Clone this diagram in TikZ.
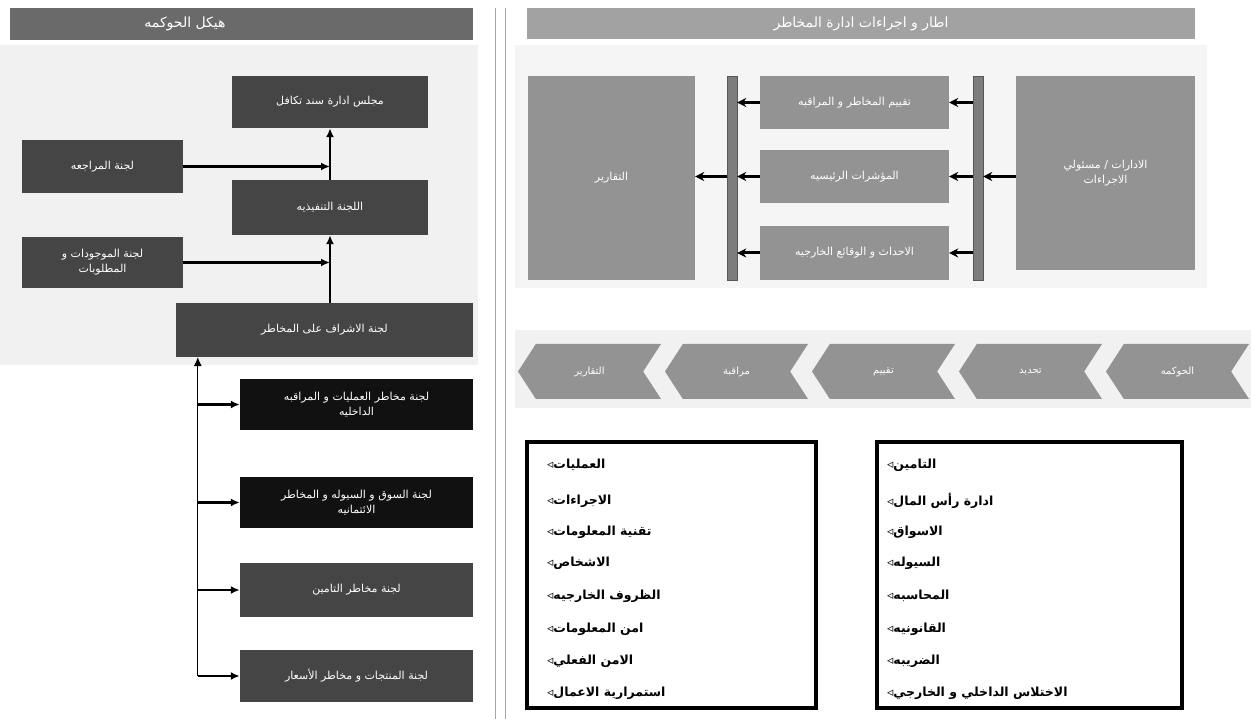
\documentclass[tikz,border=0pt]{standalone}
\usepackage{fontspec}
\usetikzlibrary{arrows.meta,shapes.symbols,calc,positioning}
\TeXXeTstate=1
\newfontfamily\arabicfont[Script=Arabic]{DejaVu Sans}
\newcommand\artext[1]{\arabicfont\beginR #1\endR}
\definecolor{titleDark}{HTML}{6A6A6A}
\definecolor{titleLight}{HTML}{A2A2A2}
\definecolor{boxDark}{HTML}{454545}
\definecolor{boxBlack}{HTML}{111111}
\definecolor{boxMid}{HTML}{939393}
\definecolor{panelGray}{HTML}{F1F1F1}

\begin{document}
\begin{tikzpicture}[x=1pt, y=-1pt]
\tikzset{
	sz/.style 2 args = { minimum width=#1pt, minimum height=#2pt },
	base/.style = { rectangle, inner sep=0pt, text=white, align=center, font=\fontsize{11}{15}\selectfont },
	titlebar/.style = { base, font=\fontsize{14}{16}\selectfont },
	darkbox/.style = { base, fill=boxDark },
	blackbox/.style = { base, fill=boxBlack },
	midbox/.style = { base, fill=boxMid },
	vbar/.style = { rectangle, inner sep=0pt, fill=boxMid!85!black, draw=boxMid!60!black, line width=0.4pt },
	chevron/.style = { signal, signal to=west, signal from=east, signal pointer angle=114, fill=boxMid, inner sep=0pt, text=white, sz={143}{55}, font=\fontsize{10}{12}\selectfont },
	listbox/.style = { rectangle, draw=black, line width=4pt, inner sep=0pt },
	item/.style = { anchor=west, inner sep=0pt, font=\bfseries\fontsize{12.5}{14}\selectfont },
	arrow/.style = { line width=2.4pt, -{Latex[length=9pt, width=8pt]} },
	thinarrow/.style = { line width=0.8pt, -{Latex[length=9pt, width=8pt]} },
	rarrow/.style = { line width=3pt, -{Stealth[length=9pt, width=9pt]} }
}
\useasboundingbox (0,0) rectangle (1251,719);

	% panels
	\fill[panelGray] (0,45) rectangle (478,365);
	\fill[panelGray!70] (515,45) rectangle (1207,288);
	\fill[panelGray] (515,330) rectangle (1251,408);
	\draw[gray!70, line width=0.8pt] (495,8) -- (495,719);
	\draw[gray!70, line width=0.8pt] (505,8) -- (505,719);

	% left column
	\node (titleGov) [titlebar, fill=titleDark, sz={463}{32}] at (241.5,24) {};
	\node [titlebar] at (185,24) {\artext{هيكل الحوكمه}};
	\node (board) [darkbox, sz={196}{52}] at (330,102) {\artext{مجلس ادارة سند تكافل}};
	\node (audit) [darkbox, sz={161}{53}] at (102.5,166.5) {\artext{لجنة المراجعه}};
	\node (exec) [darkbox, sz={196}{55}] at (330,207.5) {\artext{اللجنة التنفيذيه}};
	\node (alco) [darkbox, sz={161}{51}] at (102.5,262.5) {\artext{لجنة الموجودات و}\\\artext{المطلوبات}};
	\node (riskc) [darkbox, sz={297}{54}] at (324.5,330) {\artext{لجنة الاشراف على المخاطر}};

	\node (opsc) [blackbox, sz={233}{51}] at (356.5,404.5) {\artext{لجنة مخاطر العمليات و المراقبه}\\\artext{الداخليه}};
	\node (mktc) [blackbox, sz={233}{51}] at (356.5,502.5) {\artext{لجنة السوق و السيوله و المخاطر}\\\artext{الائتمانيه}};
	\node (insc) [darkbox, sz={233}{54}] at (356.5,590) {\artext{لجنة مخاطر التامين}};
	\node (prodc) [darkbox, sz={233}{52}] at (356.5,676) {\artext{لجنة المنتجات و مخاطر الأسعار}};
	\coordinate (trunk) at ($(riskc.south west)+(22,0)$);

	% right column
	\node (titleFw) [titlebar, fill=titleLight, sz={668}{31}] at (861,23.5) {\artext{اطار و اجراءات ادارة المخاطر}};
	\node (reports) [midbox, sz={167}{204}] at (611.5,178) {\artext{التقارير}};
	\node (barL) [vbar, sz={10}{204}] at (732,178) {};
	\node (assess) [midbox, sz={189}{53}] at (854.5,102.5) {\artext{تقييم المخاطر و المراقبه}};
	\node (kri) [midbox, sz={189}{53}] at (854.5,176.5) {\artext{المؤشرات الرئيسيه}};
	\node (events) [midbox, sz={189}{54}] at (854.5,253) {\artext{الاحداث و الوقائع الخارجيه}};
	\node (barR) [vbar, sz={10}{204}] at (978,178) {};
	\node (depts) [midbox, sz={179}{194}] at (1105.5,173) {\artext{الادارات / مسئولي}\\\artext{الاجراءات}};

	% process chevrons
	\foreach \lbl [count=\i] in {التقارير, مراقبة, تقييم, تحديد, الحوكمه}
		\node (step\i) [chevron] at ({589.5+147*(\i-1)},371.5) {\artext{\lbl}};

	% lists
	\node (opList) [listbox, sz={289}{266}] at (671.5,575) {};
	\node (finList) [listbox, sz={305}{266}] at (1029.5,575) {};
	\foreach \txt/\yy [count=\i] in {العمليات/465, الاجراءات/501, تقنية المعلومات/532, الاشخاص/563, الظروف الخارجيه/596, امن المعلومات/629, الامن الفعلي/661, استمرارية الاعمال/693}
		\node (opItem\i) [item] at (547,\yy) {\artext{\txt◃}};
	\foreach \txt/\yy [count=\i] in {التامين/465, ادارة رأس المال/501, الاسواق/532, السيوله/563, المحاسبه/596, القانونيه/629, الضريبه/661, الاختلاس الداخلي و الخارجي/693}
		\node (finItem\i) [item] at (887,\yy) {\artext{\txt◃}};

	% paths
	\draw [arrow] (exec.north) -- (board.south);
	\draw [arrow] (audit.east) -- (audit.east -| board.south);
	\draw [arrow] (riskc.north -| exec.south) -- (exec.south);
	\draw [arrow] (alco.east) -- (alco.east -| exec.south);
	\draw [thinarrow] (trunk |- prodc.west) -- (trunk);
	\draw [arrow] (trunk |- opsc.west) -- (opsc.west);
	\draw [arrow] (trunk |- mktc.west) -- (mktc.west);
	\draw [arrow] (trunk |- insc.west) -- (insc.west);
	\draw [arrow] (trunk |- prodc.west) -- (prodc.west);

	\draw [rarrow] (depts.west |- kri.east) -- (barR.east |- kri.east);
	\draw [rarrow] (barR.west |- assess.east) -- (assess.east);
	\draw [rarrow] (barR.west |- kri.east) -- (kri.east);
	\draw [rarrow] (barR.west |- events.east) -- (events.east);
	\draw [rarrow] (assess.west) -- (assess.west -| barL.east);
	\draw [rarrow] (kri.west) -- (kri.west -| barL.east);
	\draw [rarrow] (events.west) -- (events.west -| barL.east);
	\draw [rarrow] (barL.west |- kri.west) -- (reports.east |- kri.west);
\end{tikzpicture}
\end{document}
